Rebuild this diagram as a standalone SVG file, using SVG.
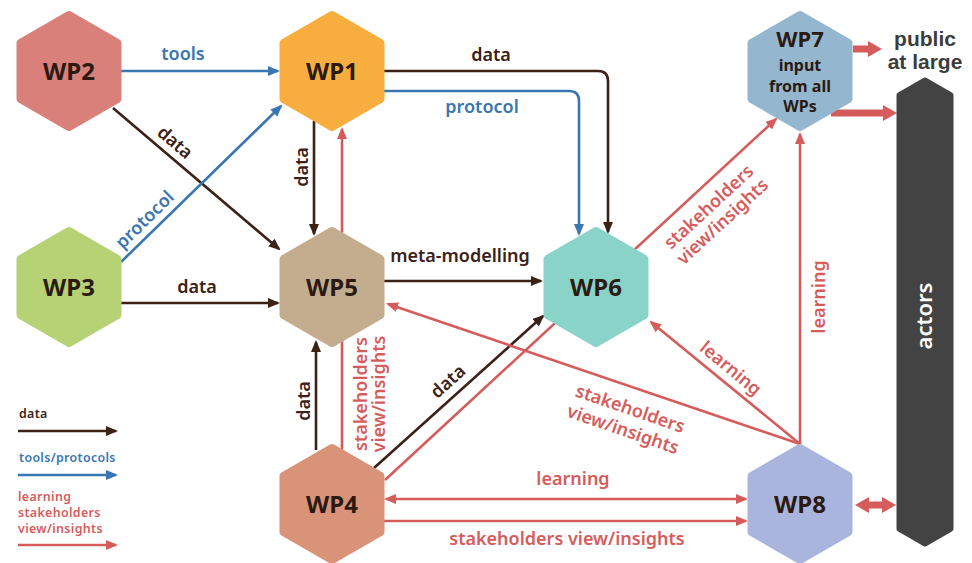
<svg xmlns="http://www.w3.org/2000/svg" xmlns:xlink="http://www.w3.org/1999/xlink" width="972" height="563" viewBox="0 0 972 563">
<style>
.lbl{font-family:"Noto Sans","Open Sans","Liberation Sans",sans-serif;font-weight:600;font-size:18px}
.node{font-family:"Noto Sans","Open Sans","Liberation Sans",sans-serif;font-weight:700;font-size:24px;fill:#2b1a12;text-anchor:middle}
.leg{font-family:"Noto Sans","Open Sans","Liberation Sans",sans-serif;font-weight:600;font-size:12.4px;letter-spacing:0.35px}
.dk{stroke:#3b2116;stroke-width:2.6;fill:none}
.bl{stroke:#3a76b2;stroke-width:2.6;fill:none}
.rd{stroke:#d65c5c;stroke-width:2.6;fill:none}
.tk{stroke:#d65c5c;stroke-width:7;fill:none}
.tdk{fill:#3b2116}
.tbl{fill:#3a76b2}
.trd{fill:#d65c5c}
.mid{text-anchor:middle}
</style>
<defs>
<path id="hex" d="M0,-56 L48.5,-28 L48.5,28 L0,56 L-48.5,28 L-48.5,-28 Z" stroke-width="8" stroke-linejoin="round"/>
<marker id="ad" viewBox="0 0 12 10" refX="10" refY="5" markerWidth="12" markerHeight="10" markerUnits="userSpaceOnUse" orient="auto"><path d="M0,0 L12,5 L0,10 Z" fill="#3b2116"/></marker>
<marker id="ab" viewBox="0 0 12 10" refX="10" refY="5" markerWidth="12" markerHeight="10" markerUnits="userSpaceOnUse" orient="auto"><path d="M0,0 L12,5 L0,10 Z" fill="#3a76b2"/></marker>
<marker id="ar" viewBox="0 0 12 10" refX="10" refY="5" markerWidth="12" markerHeight="10" markerUnits="userSpaceOnUse" orient="auto-start-reverse"><path d="M0,0 L12,5 L0,10 Z" fill="#d65c5c"/></marker>
<marker id="at" viewBox="0 0 14 16" refX="1" refY="8" markerWidth="14" markerHeight="16" markerUnits="userSpaceOnUse" orient="auto-start-reverse"><path d="M0,0 L14,8 L0,16 Z" fill="#d65c5c"/></marker>
</defs>

<g id="connectors">
<!-- WP2 -> WP1 tools -->
<path class="bl" d="M121,71 H278" marker-end="url(#ab)"/>
<text class="lbl tbl mid" x="183" y="60">tools</text>
<!-- WP2 -> WP5 data -->
<path class="dk" d="M113,108 L279,249" marker-end="url(#ad)"/>
<text class="lbl tdk mid" transform="translate(171,147) rotate(40.4)">data</text>
<!-- WP3 -> WP1 protocol -->
<path class="bl" d="M121,262 L281,106" marker-end="url(#ab)"/>
<text class="lbl tbl mid" transform="translate(149,224) rotate(-44.5)">protocol</text>
<!-- WP3 -> WP5 data -->
<path class="dk" d="M121,303 H278" marker-end="url(#ad)"/>
<text class="lbl tdk mid" x="197" y="293">data</text>
<!-- WP1 -> WP5 data -->
<path class="dk" d="M314,121 V234" marker-end="url(#ad)"/>
<text class="lbl tdk mid" transform="translate(308,167) rotate(-90)">data</text>
<!-- WP4 -> WP1 stakeholders -->
<path class="rd" d="M342,450 V129" marker-end="url(#ar)"/>
<text class="lbl trd mid" transform="translate(367,394) rotate(-90)">stakeholders</text>
<text class="lbl trd mid" transform="translate(385,394) rotate(-90)">view/insights</text>
<!-- WP4 -> WP5 data -->
<path class="dk" d="M316,450 V342" marker-end="url(#ad)"/>
<text class="lbl tdk mid" transform="translate(310,401) rotate(-90)">data</text>
<!-- WP5 -> WP6 meta-modelling -->
<path class="dk" d="M384,281 H541" marker-end="url(#ad)"/>
<text class="lbl tdk mid" x="460" y="262">meta-modelling</text>
<!-- WP1 -> WP6 data -->
<path class="dk" d="M384,71 H598 Q608,71 608,81 V232" marker-end="url(#ad)"/>
<text class="lbl tdk mid" x="491" y="61">data</text>
<!-- WP1 -> WP6 protocol -->
<path class="bl" d="M384,91 H569 Q579,91 579,101 V234" marker-end="url(#ab)"/>
<text class="lbl tbl mid" x="482" y="113">protocol</text>
<!-- WP4 -> WP6 data -->
<path class="dk" d="M374,468 L543,316" marker-end="url(#ad)"/>
<text class="lbl tdk mid" transform="translate(452,386) rotate(-42.2)">data</text>
<!-- WP4 -> WP7 stakeholders -->
<path class="rd" d="M385,480 L776,119" marker-end="url(#ar)"/>
<g transform="translate(696,193) rotate(-42.7)">
<text class="lbl trd mid" x="0" y="25">stakeholders</text>
<text class="lbl trd mid" x="0" y="45">view/insights</text>
</g>
<!-- WP8 -> WP5 stakeholders -->
<path class="rd" d="M800,444 L388,304" marker-end="url(#ar)"/>
<g transform="translate(637,389) rotate(19)">
<text class="lbl trd mid" x="0" y="27">stakeholders</text>
<text class="lbl trd mid" x="0" y="49">view/insights</text>
</g>
<!-- WP8 -> WP6 learning -->
<path class="rd" d="M800,444 L651,322" marker-end="url(#ar)"/>
<text class="lbl trd mid" transform="translate(721,380) rotate(39.6) translate(0,-9)">learning</text>
<!-- WP8 -> WP7 learning -->
<path class="rd" d="M800,444 V134" marker-end="url(#ar)"/>
<text class="lbl trd mid" transform="translate(825,297) rotate(-90)">learning</text>
<!-- WP4 <-> WP8 learning -->
<path class="rd" d="M386,499 H746" marker-start="url(#ar)" marker-end="url(#ar)"/>
<text class="lbl trd mid" x="573" y="485">learning</text>
<!-- WP4 -> WP8 stakeholders -->
<path class="rd" d="M384,521 H746" marker-end="url(#ar)"/>
<text class="lbl trd mid" x="567" y="545">stakeholders view/insights</text>
<!-- WP7 -> public at large -->
<path class="tk" d="M853,49 H869" marker-end="url(#at)"/>
<!-- WP7 -> actors -->
<path class="tk" d="M831,113 H884" marker-end="url(#at)"/>
<!-- WP8 <-> actors -->
<path class="tk" d="M868,505 H883" marker-start="url(#at)" marker-end="url(#at)"/>
</g>

<g id="WP2"><use xlink:href="#hex" href="#hex" transform="translate(69,71)" fill="#d9807a" stroke="#d9807a"/><text class="node" x="69" y="80">WP2</text></g>
<g id="WP1"><use xlink:href="#hex" href="#hex" transform="translate(332,71)" fill="#f8ae3f" stroke="#f8ae3f"/><text class="node" x="332" y="80">WP1</text></g>
<g id="WP3"><use xlink:href="#hex" href="#hex" transform="translate(69,287)" fill="#b6d274" stroke="#b6d274"/><text class="node" x="69" y="296">WP3</text></g>
<g id="WP5"><use xlink:href="#hex" href="#hex" transform="translate(332,287)" fill="#c4ad8f" stroke="#c4ad8f"/><text class="node" x="332" y="296">WP5</text></g>
<g id="WP6"><use xlink:href="#hex" href="#hex" transform="translate(596,287)" fill="#8ad3c8" stroke="#8ad3c8"/><text class="node" x="596" y="296">WP6</text></g>
<g id="WP4"><use xlink:href="#hex" href="#hex" transform="translate(332,504)" fill="#d99378" stroke="#d99378"/><text class="node" x="332" y="513">WP4</text></g>
<g id="WP8"><use xlink:href="#hex" href="#hex" transform="translate(800,504)" fill="#a9b5dc" stroke="#a9b5dc"/><text class="node" x="800" y="513">WP8</text></g>
<g id="WP7"><use xlink:href="#hex" href="#hex" transform="translate(800,71)" fill="#94b6cf" stroke="#94b6cf"/>
<text class="node" x="800" y="47" style="font-size:22px">WP7</text>
<text class="node" x="800" y="71" style="font-size:16px">input</text>
<text class="node" x="800" y="92" style="font-size:16px">from all</text>
<text class="node" x="800" y="112" style="font-size:16px">WPs</text>
</g>
<g id="public">
<text style="font-family:'Liberation Sans',Arial,sans-serif;font-weight:700;font-size:21px;fill:#3d3d3d;text-anchor:middle"><tspan x="925" y="46">public</tspan><tspan x="925" y="69">at large</tspan></text>
</g>
<g id="actors">
<path d="M925,80 L951,95 L951,529 L925,544 L899,529 L899,95 Z" fill="#434343" stroke="#434343" stroke-width="5" stroke-linejoin="round"/>
<text class="lbl mid" transform="translate(932,316) rotate(-90)" style="font-size:22px;fill:#ffffff">actors</text>
</g>

<g id="legend">
<text class="leg tdk" x="19" y="418">data</text>
<path class="dk" d="M18,431 H116" marker-end="url(#ad)"/>
<text class="leg tbl" x="19" y="462">tools/protocols</text>
<path class="bl" d="M18,475 H116" marker-end="url(#ab)"/>
<text class="leg trd"><tspan x="18" y="501">learning</tspan><tspan x="18" y="517">stakeholders</tspan><tspan x="18" y="533">view/insights</tspan></text>
<path class="rd" d="M18,545 H116" marker-end="url(#ar)"/>
</g>
</svg>
